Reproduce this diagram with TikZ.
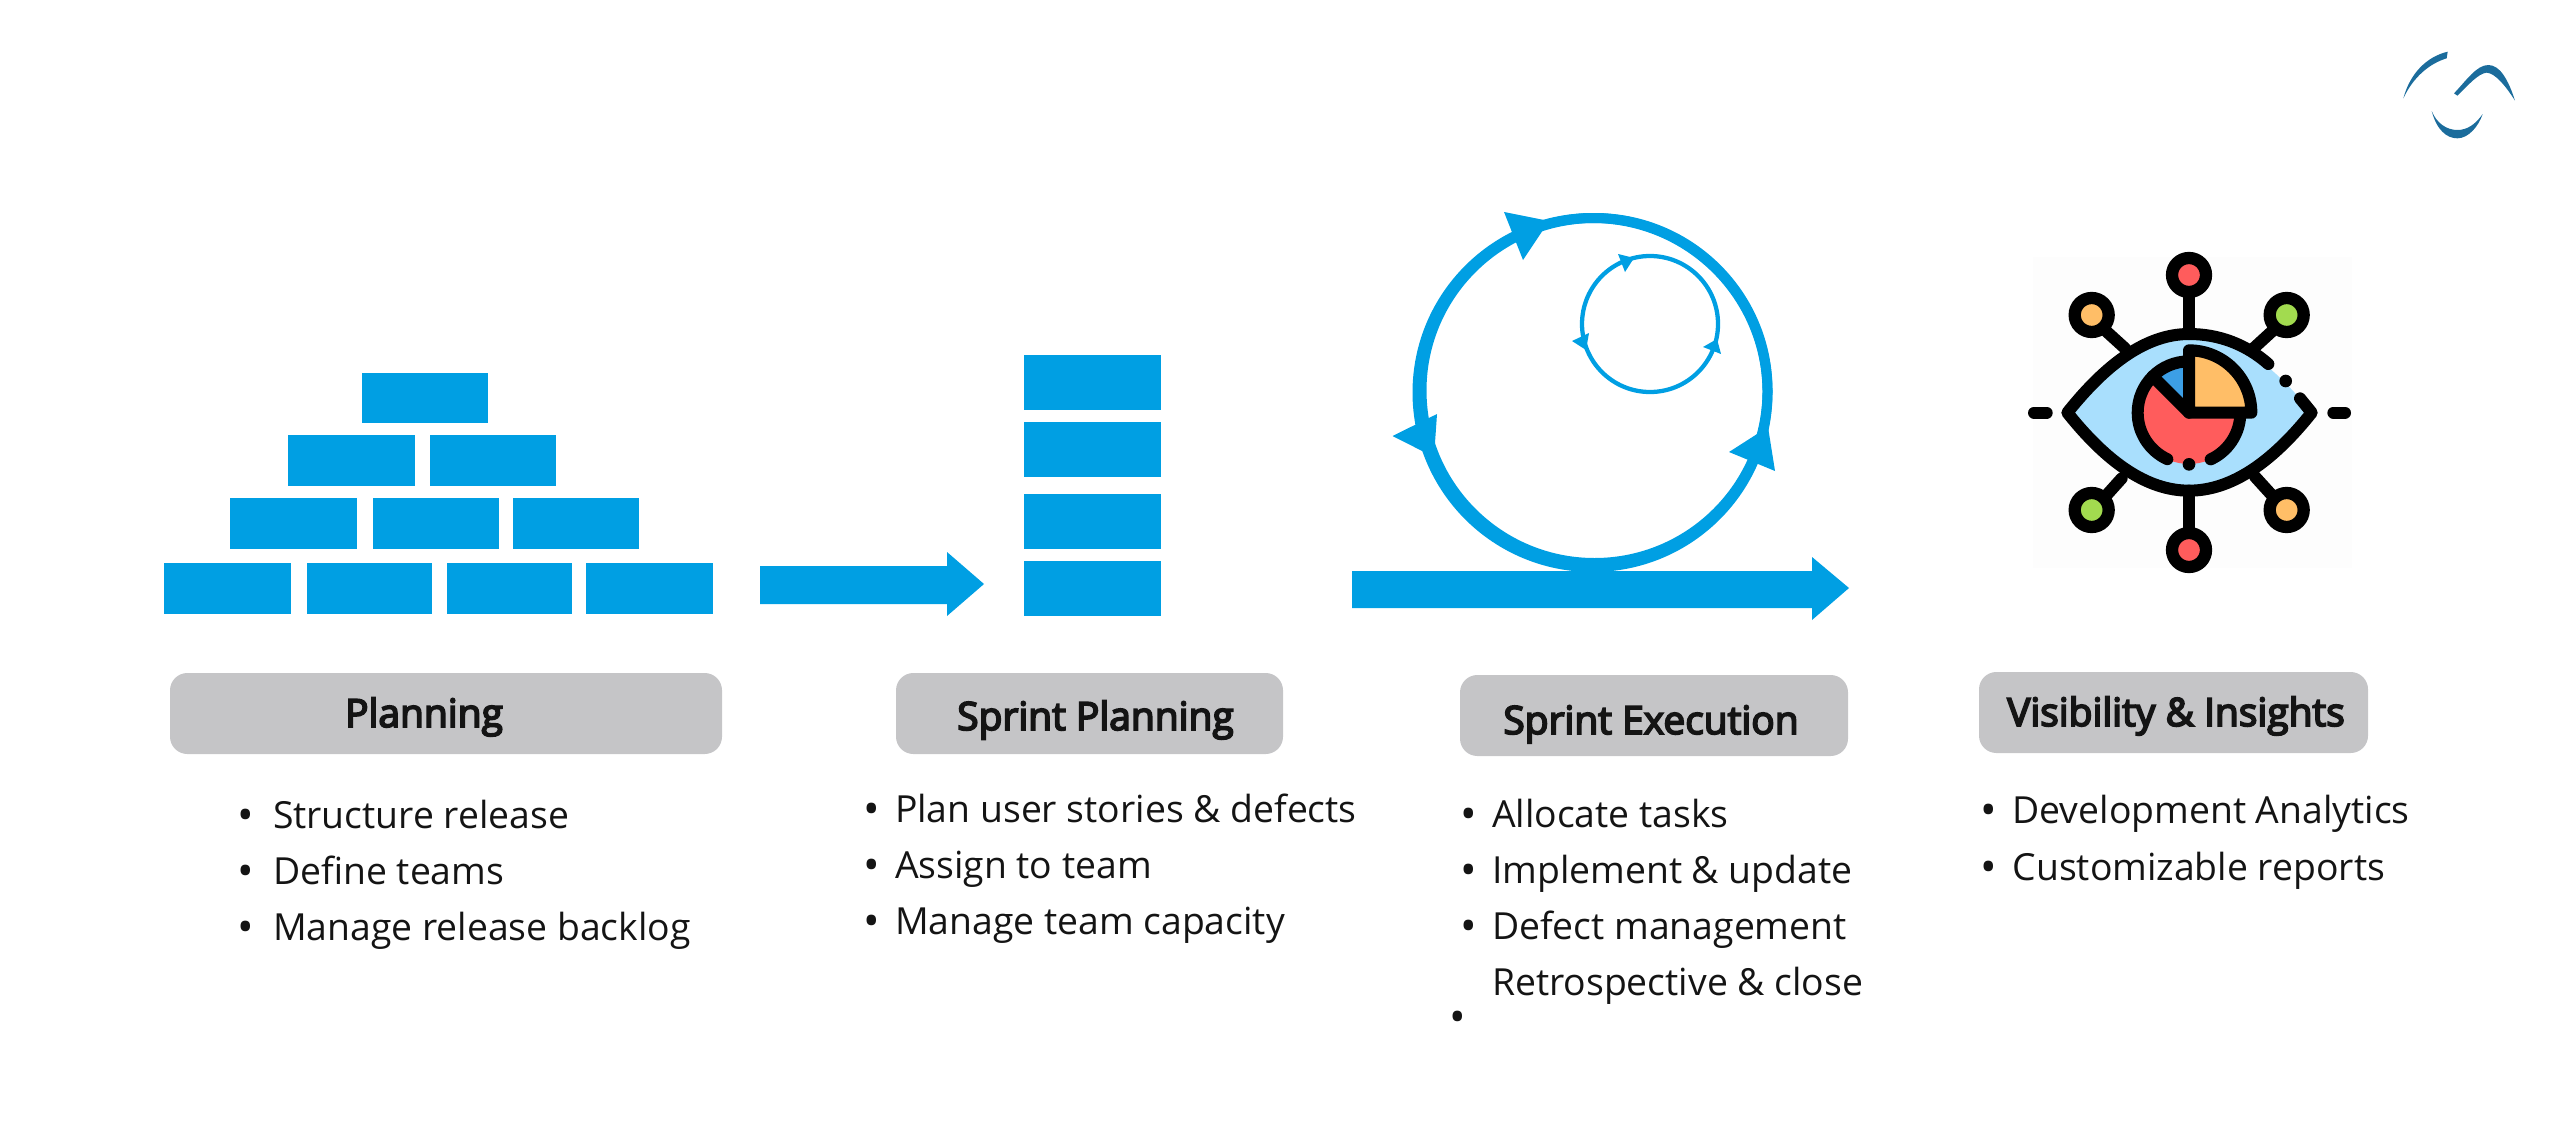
\documentclass[tikz,border=0pt]{standalone}
\usepackage{fontspec}
\setmainfont{Open Sans}
\newfontfamily\headfont[FakeBold=4.5]{Open Sans}
\definecolor{sblue}{HTML}{009FE3}
\definecolor{boxgrey}{HTML}{C5C5C7}
\definecolor{inkc}{HTML}{141414}
\definecolor{logoc}{HTML}{1B6C9C}
\definecolor{eyeblue}{HTML}{A9DFFD}
\definecolor{pieblue}{HTML}{3C9FE6}
\definecolor{pred}{HTML}{FF5C5C}
\definecolor{porange}{HTML}{FFBE67}
\definecolor{pgreen}{HTML}{A2DB4F}
\definecolor{iconbg}{HTML}{FDFDFD}
\tikzset{
  brick/.style={fill=sblue,draw=none},
  headbox/.style={fill=boxgrey,draw=none,rounded corners=6.5pt},
  headtext/.style={anchor=base,inner sep=0pt,text=inkc,font=\fontsize{14.6}{17}\selectfont\headfont},
  itemtext/.style={anchor=base west,inner sep=0pt,text=inkc,font=\fontsize{14}{17}\selectfont},
  bullettext/.style={anchor=base,inner sep=0pt,yshift=-1.1pt,text=inkc,font=\fontsize{16.5}{20}\selectfont},
  eyeline/.style={draw=black,line width=4.5pt,line cap=round,line join=round},
  sat/.style={draw=black,line width=4.6pt},
  loopline/.style={draw=sblue,line width=3.75pt}
}
\begin{document}
\begin{tikzpicture}[x=0.375pt,y=-0.375pt]
\useasboundingbox (0,0) rectangle (2560,1128);
% logo
\begin{scope}[shift={(2380,30)},scale=0.33333]
\fill[logoc] (70,205) .. controls (90,130) and (140,80) .. (203,65) -- (200,85) .. controls (150,100) and (100,140) .. (70,205) -- cycle;
\fill[logoc] (222,190) .. controls (260,150) and (290,105) .. (325,105) .. controls (360,105) and (385,150) .. (405,212) .. controls (375,165) and (345,130) .. (320,128) .. controls (295,130) and (265,165) .. (232,197) -- cycle;
\fill[logoc] (155,243) .. controls (170,300) and (200,325) .. (232,325) .. controls (265,325) and (295,290) .. (308,252) .. controls (285,285) and (260,300) .. (232,300) .. controls (200,300) and (170,280) .. (155,243) -- cycle;
\end{scope}
% pyramid
\fill[brick] (362,373) rectangle (488,423);
\fill[brick] (288,435) rectangle (415,486);
\fill[brick] (430,435) rectangle (556,486);
\fill[brick] (230,498) rectangle (357,549);
\fill[brick] (373,498) rectangle (499,549);
\fill[brick] (513,498) rectangle (639,549);
\fill[brick] (164,563) rectangle (291,614);
\fill[brick] (307,563) rectangle (432,614);
\fill[brick] (447,563) rectangle (572,614);
\fill[brick] (586,563) rectangle (713,614);
% first arrow
\fill[brick] (760,566) -- (947,566) -- (947,552) -- (984,584) -- (947,616) -- (947,604) -- (760,604) -- cycle;
% stack
\fill[brick] (1024,355) rectangle (1161,410);
\fill[brick] (1024,422) rectangle (1161,477);
\fill[brick] (1024,494) rectangle (1161,549);
\fill[brick] (1024,561) rectangle (1161,616);
% sprint cycle
\draw[loopline] (1592.5,392.5) ellipse (175 and 174.5);
\draw[loopline] (1594.5,390.5) ellipse (173 and 172.5);
\draw[sblue,line width=1.6pt] (1650,324) circle (68);
\fill[brick] (1504,212) -- (1549,221) -- (1523,260) -- cycle;
\fill[brick] (1392.5,436) -- (1437,414) -- (1434,457) -- cycle;
\fill[brick] (1729,452) -- (1768,427) -- (1775,471) -- cycle;
\fill[brick] (1618,254) -- (1634,258) -- (1625,272) -- cycle;
\fill[brick] (1572,341) -- (1589,333) -- (1586,350) -- cycle;
\fill[brick] (1703,347) -- (1717,339) -- (1721,354) -- cycle;
\fill[brick] (1352,571) -- (1812,571) -- (1812,557) -- (1849,588) -- (1812,620) -- (1812,608) -- (1352,608) -- cycle;
% eye icon
\begin{scope}[shift={(1950,220)},scale=0.33333]
\fill[iconbg] (250,110) rectangle (1205,1045);
\fill[eyeblue] (352,578) .. controls (470,430) and (590,342) .. (717,342) .. controls (845,342) and (967,430) .. (1085,578) .. controls (967,726) and (845,812) .. (717,812) .. controls (590,812) and (470,726) .. (352,578) -- cycle;
\draw[eyeline] (955,432) .. controls (890,375) and (810,342) .. (717,342) .. controls (590,342) and (470,430) .. (352,578) .. controls (470,726) and (590,812) .. (717,812) .. controls (845,812) and (967,726) .. (1085,578) -- (1050,535);
\fill[black] (1007,483) circle (19);
\fill[pred] (717,578) circle (154);
\fill[pieblue] (717,578) -- (717,424) arc[start angle=270,end angle=225,radius=154] -- cycle;
\draw[eyeline] (717,578) -- (608,469);
\draw[eyeline] (717,424) arc[start angle=270,end angle=115,radius=154];
\draw[eyeline] (782,718) arc[start angle=65,end angle=5,radius=154];
\fill[black] (717,733) circle (19);
\draw[eyeline,fill=porange] (717,578) -- (717,391) arc[start angle=270,end angle=360,radius=187] -- cycle;
\draw[eyeline] (717,235) -- (717,342);
\draw[eyeline] (717,812) -- (717,925);
\draw[eyeline] (470,335) -- (525,385);
\draw[eyeline] (965,335) -- (905,390);
\draw[eyeline] (515,775) -- (470,825);
\draw[eyeline] (915,770) -- (965,825);
\draw[eyeline] (252,578) -- (290,578);
\draw[eyeline] (1150,578) -- (1185,578);
\draw[sat,fill=pred] (717,165) circle (51);
\draw[sat,fill=porange] (425,285) circle (51);
\draw[sat,fill=pgreen] (1010,285) circle (51);
\draw[sat,fill=pgreen] (425,870) circle (51);
\draw[sat,fill=porange] (1010,870) circle (51);
\draw[sat,fill=pred] (717,990) circle (51);
\end{scope}
% header boxes
\fill[headbox] (170,673) rectangle (722,754);
\fill[headbox] (896,673) rectangle (1283,754);
\fill[headbox] (1460,675) rectangle (1848,756);
\fill[headbox] (1979,672) rectangle (2368,753);
\node[headtext] (h1) at (424,727) {Planning};
\node[headtext] (h2) at (1095.5,730) {Sprint Planning};
\node[headtext] (h3) at (1651,734) {Sprint Execution};
\node[headtext] (h4) at (2176,726) {Visibility \& Insights};
% planning list
\node[bullettext] (b11) at (246,828) {•};
\node[bullettext] (b12) at (246,884) {•};
\node[bullettext] (b13) at (246,940) {•};
\node[itemtext] (t11) at (272.5,828) {Structure release};
\node[itemtext] (t12) at (272.5,884) {Define teams};
\node[itemtext] (t13) at (272.5,940) {Manage release backlog};
% sprint planning list
\node[bullettext] (b21) at (872,822) {•};
\node[bullettext] (b22) at (872,878) {•};
\node[bullettext] (b23) at (872,934) {•};
\node[itemtext] (t21) at (894.5,822) {Plan user stories \& defects};
\node[itemtext] (t22) at (894.5,878) {Assign to team};
\node[itemtext] (t23) at (894.5,934) {Manage team capacity};
% execution list
\node[bullettext] (b31) at (1469,827) {•};
\node[bullettext] (b32) at (1469,883) {•};
\node[bullettext] (b33) at (1469,939) {•};
\node[bullettext] (b34) at (1458,1030) {•};
\node[itemtext] (t31) at (1491.5,827) {Allocate tasks};
\node[itemtext] (t32) at (1491.5,883) {Implement \& update};
\node[itemtext] (t33) at (1491.5,939) {Defect management};
\node[itemtext] (t34) at (1491.5,995) {Retrospective \& close};
% visibility list
\node[bullettext] (b41) at (1989,823) {•};
\node[bullettext] (b42) at (1989,880) {•};
\node[itemtext] (t41) at (2012,823) {Development Analytics};
\node[itemtext] (t42) at (2012,880) {Customizable reports};
\end{tikzpicture}
\end{document}
